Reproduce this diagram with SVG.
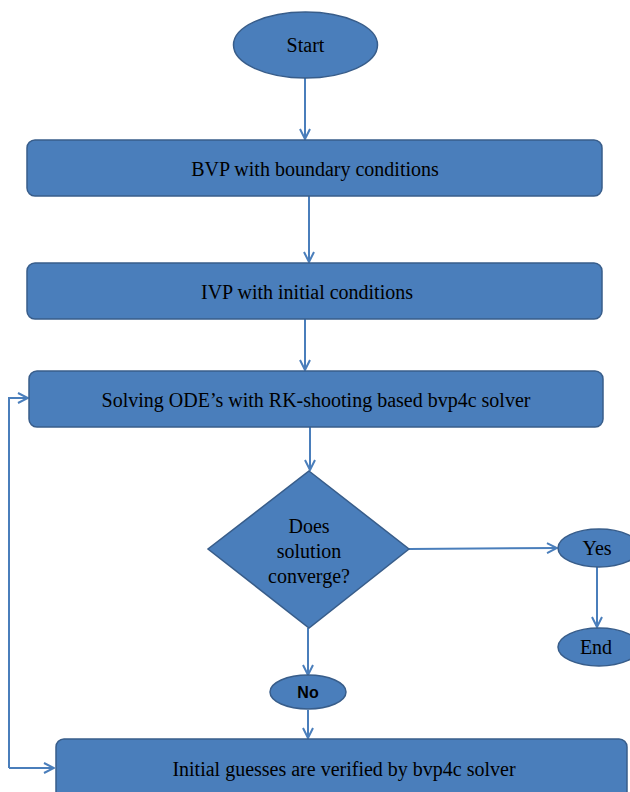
<svg xmlns="http://www.w3.org/2000/svg" width="630" height="792" viewBox="0 0 630 792">
<style>
.n{fill:#4A7EBB;stroke:#385D8A;stroke-width:1.5}
.t{font-family:"Liberation Serif","Times New Roman",serif;font-size:20px;fill:#000;text-anchor:middle}
.s{font-family:"Liberation Sans",Arial,sans-serif;font-size:16px;font-weight:bold;fill:#000;text-anchor:middle}
.c{fill:none;stroke:#4A7EBB;stroke-width:2}
</style>
<defs>
<marker id="a" viewBox="0 0 12 12" refX="11" refY="6" markerWidth="12" markerHeight="12" markerUnits="userSpaceOnUse" orient="auto">
<path d="M1,1 L11,6 L1,11" fill="none" stroke="#4A7EBB" stroke-width="2"/>
</marker>
</defs>
<rect width="630" height="792" fill="#fff"/>
<g id="connectors">
<line class="c" x1="305" y1="78" x2="305" y2="139" marker-end="url(#a)"/>
<line class="c" x1="309" y1="196" x2="309" y2="262" marker-end="url(#a)"/>
<line class="c" x1="305" y1="319" x2="305" y2="370" marker-end="url(#a)"/>
<line class="c" x1="310" y1="427" x2="310" y2="470" marker-end="url(#a)"/>
<line class="c" x1="409" y1="549" x2="557" y2="548" marker-end="url(#a)"/>
<line class="c" x1="597" y1="567" x2="597" y2="627" marker-end="url(#a)"/>
<line class="c" x1="308" y1="628" x2="308" y2="675" marker-end="url(#a)"/>
<line class="c" x1="308" y1="710" x2="308" y2="738" marker-end="url(#a)"/>
<polyline class="c" points="9,768 9,398 28,398" marker-end="url(#a)"/>
<line class="c" x1="9" y1="768" x2="54" y2="768" marker-end="url(#a)"/>
</g>
<g id="start">
<ellipse class="n" cx="305.5" cy="45" rx="72" ry="33"/>
<text class="t" x="305.5" y="52">Start</text>
</g>
<g id="bvp">
<rect class="n" x="27" y="140" width="575" height="56" rx="8"/>
<text class="t" x="315" y="176">BVP with boundary conditions</text>
</g>
<g id="ivp">
<rect class="n" x="27" y="263" width="575" height="56" rx="8"/>
<text class="t" x="307" y="299">IVP with initial conditions</text>
</g>
<g id="solve">
<rect class="n" x="29" y="371" width="574" height="56" rx="8"/>
<text class="t" x="316" y="407">Solving ODE’s with RK-shooting based bvp4c solver</text>
</g>
<g id="decision">
<polygon class="n" points="309,471 409,549 309,628 208,549"/>
<text class="t" x="309" y="533">Does</text>
<text class="t" x="309" y="558">solution</text>
<text class="t" x="309" y="583">converge?</text>
</g>
<g id="yes">
<ellipse class="n" cx="599" cy="548" rx="41" ry="19"/>
<text class="t" x="597" y="555">Yes</text>
</g>
<g id="end">
<ellipse class="n" cx="599" cy="647" rx="41" ry="19"/>
<text class="t" x="596" y="654">End</text>
</g>
<g id="no">
<ellipse class="n" cx="308" cy="692" rx="38" ry="17"/>
<text class="s" x="308" y="698">No</text>
</g>
<g id="initial">
<rect class="n" x="56" y="739" width="571" height="70" rx="8"/>
<text class="t" x="344" y="776">Initial guesses are verified by bvp4c solver</text>
</g>
</svg>
